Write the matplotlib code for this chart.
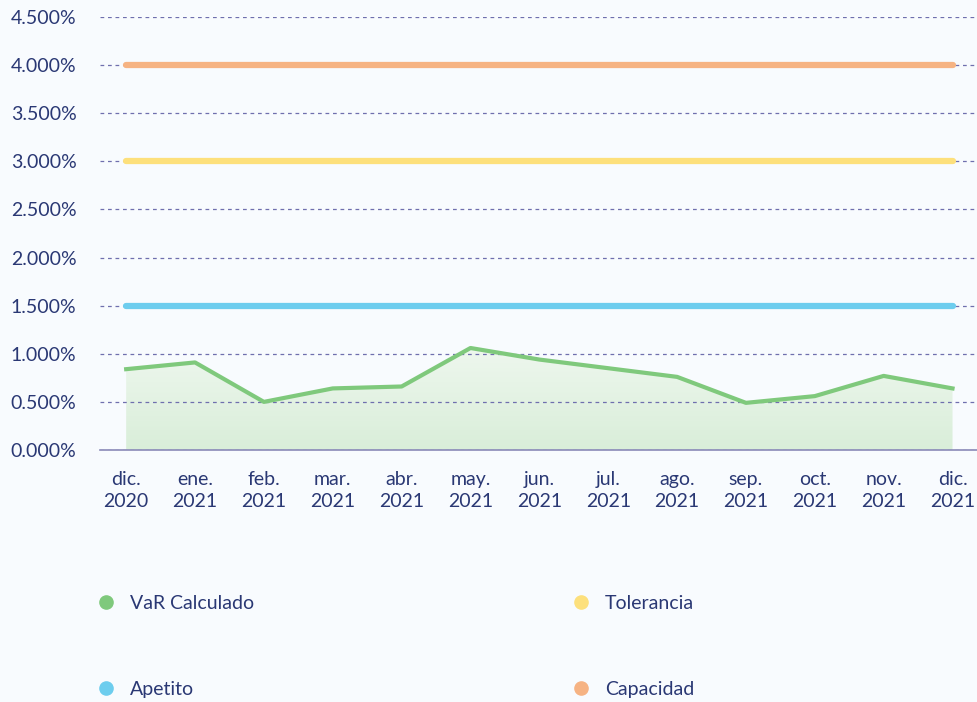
import numpy as np
import matplotlib
matplotlib.use("Agg")
import matplotlib.pyplot as plt
from matplotlib.lines import Line2D
from matplotlib.colors import LinearSegmentedColormap
from matplotlib.ticker import FuncFormatter, MultipleLocator

# monthly VaR vs. appetite / tolerance / capacity limits (in %)
meses = ["dic.\n2020", "ene.\n2021", "feb.\n2021", "mar.\n2021", "abr.\n2021",
         "may.\n2021", "jun.\n2021", "jul.\n2021", "ago.\n2021", "sep.\n2021",
         "oct.\n2021", "nov.\n2021", "dic.\n2021"]
var_calculado = [0.84, 0.91, 0.50, 0.64, 0.66, 1.06, 0.94, 0.85, 0.76, 0.49, 0.56, 0.77, 0.64]
apetito = [1.5] * 13
tolerancia = [3.0] * 13
capacidad = [4.0] * 13

c_var = "#7fc97c"
c_ape = "#6dcdee"
c_tol = "#fde07c"
c_cap = "#f6b383"
c_txt = "#2a3874"
c_grid = "#6f6fae"
fs = 14

plt.rcParams["font.family"] = ["Lato", "DejaVu Sans"]

fig = plt.figure(figsize=(9.78, 7.02), dpi=100)
fig.patch.set_facecolor("#f8fbfe")
ax = fig.add_axes([100 / 978, 1 - 450 / 702, 1 - 100 / 978, (450 - 17) / 702])
ax.set_facecolor("none")

x = np.arange(len(meses))

# soft vertical gradient under the VaR line
grad = np.linspace(0, 1, 256).reshape(-1, 1)
cmap = LinearSegmentedColormap.from_list("g", ["#d9eed9", "#eef7ee"])
img = ax.imshow(grad, extent=[x[0], x[-1], 0, max(var_calculado)], origin="lower",
                aspect="auto", cmap=cmap, zorder=1)
poly = ax.fill_between(x, 0, var_calculado, facecolor="none", edgecolor="none")
img.set_clip_path(poly.get_paths()[0], transform=ax.transData)

ax.plot(x, var_calculado, color=c_var, lw=3, zorder=3, solid_joinstyle="round")
for serie, col in [(apetito, c_ape), (tolerancia, c_tol), (capacidad, c_cap)]:
    ax.plot(x, serie, color=col, lw=4.5, solid_capstyle="round", zorder=3)

ax.set_xlim(-0.38, len(meses) - 1 + 0.37)
ax.set_ylim(0, 4.5)
ax.yaxis.set_major_locator(MultipleLocator(0.5))
ax.yaxis.set_major_formatter(FuncFormatter(lambda v, p: f"{v:.3f}%"))
ax.set_xticks(x)
ax.set_xticklabels(meses, linespacing=1.4)

ax.grid(axis="y", color=c_grid, lw=0.9, linestyle=(0, (3, 3)), zorder=0)
for s in ["top", "right", "left"]:
    ax.spines[s].set_visible(False)
ax.spines["bottom"].set_color("#8a8ab8")
ax.spines["bottom"].set_linewidth(1.2)
ax.spines["bottom"].set_zorder(4)
ax.tick_params(axis="both", length=0, labelcolor=c_txt, labelsize=fs)
ax.tick_params(axis="x", pad=15)
ax.tick_params(axis="y", pad=17)

# legend: two columns below the chart
def legend_col(names, colors, x0):
    handles = [Line2D([], [], marker="o", ls="none", color=c, markersize=9.5) for c in colors]
    leg = fig.legend(handles, names, loc="upper left", bbox_to_anchor=(x0, 1 - 595 / 702),
                     frameon=False, fontsize=fs, handletextpad=0.75, labelspacing=3.55,
                     handlelength=1.0, borderpad=0, borderaxespad=0)
    for t in leg.get_texts():
        t.set_color(c_txt)
    return leg

legend_col(["VaR Calculado", "Apetito"], [c_var, c_ape], 96 / 978)
legend_col(["Tolerancia", "Capacidad"], [c_tol, c_cap], 571 / 978)

fig.savefig("out.png", dpi=100, facecolor=fig.get_facecolor())
